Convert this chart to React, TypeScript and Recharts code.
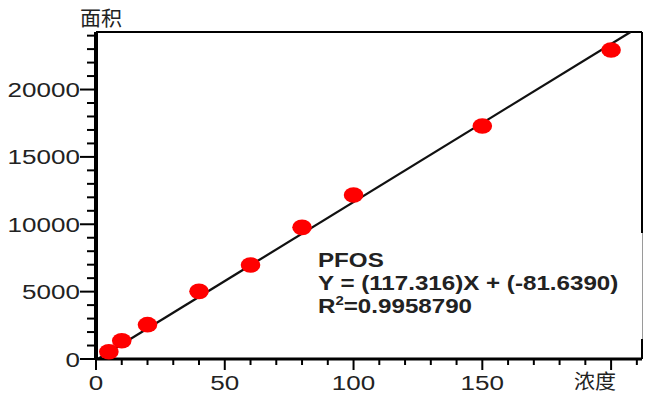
import React from 'react';
import {
  ScatterChart,
  Scatter,
  XAxis,
  YAxis,
  ReferenceLine,
} from 'recharts';

// calibration standards: concentration vs peak area
const CONCENTRATIONS = [5, 10, 20, 40, 60, 80, 100, 150, 200];
const AREAS = [540, 1360, 2550, 5020, 6980, 9770, 12170, 17290, 22930];

// fitted line as printed in the annotation
const SLOPE = 117.316;
const INTERCEPT = -81.639;
const COMPOUND = 'PFOS';
const EQUATION = 'Y = (117.316)X + (-81.6390)';
const R_SQUARED = '0.9958790';

const X_MAX = 212;
const Y_MAX = 24270;

const X_TICKS = [0, 10, 20, 30, 40, 50, 60, 70, 80, 90, 100, 110, 120, 130, 140, 150, 160, 170, 180, 190, 200, 210];
const X_MAJOR = [0, 50, 100, 150, 200];
const X_LABELS = [0, 50, 100, 150];

const Y_TICKS = [
  0, 1000, 2000, 3000, 4000, 5000, 6000, 7000, 8000, 9000, 10000, 11000, 12000,
  13000, 14000, 15000, 16000, 17000, 18000, 19000, 20000, 21000, 22000, 23000, 24000,
];
const Y_LABELS = [0, 5000, 10000, 15000, 20000];

const X_TITLE = '浓度';
const Y_TITLE = '面积';

const points = CONCENTRATIONS.map((c, i) => ({ x: c, y: AREAS[i] }));

// fit line runs from where it crosses zero up to the top of the plot
const fitStart = { x: -INTERCEPT / SLOPE, y: 0 };
const fitEnd = { x: (Y_MAX - INTERCEPT) / SLOPE, y: Y_MAX };

const tickFont = 'Liberation Sans, Arial, sans-serif';

function YTick(props: any) {
  const { x, y, payload } = props;
  const v = payload.value;
  const labeled = Y_LABELS.includes(v);
  return (
    <g>
      <line x1={x - (labeled ? 16 : 9)} x2={x} y1={y} y2={y} stroke="#000" strokeWidth={2} />
      {labeled && (
        <text
          transform={`translate(${x - 16},${y + 7.5}) scale(1.24,1)`}
          textAnchor="end"
          fontFamily={tickFont}
          fontSize={21}
          fill="#222"
        >
          {v}
        </text>
      )}
    </g>
  );
}

function XTick(props: any) {
  const { x, y, payload } = props;
  const v = payload.value;
  const major = X_MAJOR.includes(v);
  return (
    <g>
      <line x1={x} x2={x} y1={y} y2={y + (major ? 11 : 6)} stroke="#000" strokeWidth={2} />
      {X_LABELS.includes(v) && (
        <text
          transform={`translate(${x},${y + 31}) scale(1.24,1)`}
          textAnchor="middle"
          fontFamily={tickFont}
          fontSize={21}
          fill="#222"
        >
          {v}
        </text>
      )}
    </g>
  );
}

const Dot = (p: any) => <ellipse cx={p.cx} cy={p.cy} rx={9.8} ry={7.8} fill="#ff0000" />;

export default function App() {
  return (
    <div style={{ position: 'relative', width: 648, height: 394, background: '#fff' }}>
      <style>{`body { margin: 0; }`}</style>
      <ScatterChart width={648} height={394} margin={{ top: 32, right: 6, left: 0, bottom: 0 }}>
        <XAxis
          type="number"
          dataKey="x"
          domain={[0, X_MAX]}
          ticks={X_TICKS}
          interval={0}
          height={35}
          tickSize={0}
          tickMargin={0}
          tickLine={false}
          tick={<XTick />}
          axisLine={{ stroke: '#000', strokeWidth: 3 }}
        />
        <YAxis
          type="number"
          dataKey="y"
          domain={[0, Y_MAX]}
          ticks={Y_TICKS}
          interval={0}
          width={96}
          tickSize={0}
          tickMargin={0}
          tickLine={false}
          tick={<YTick />}
          axisLine={{ stroke: '#000', strokeWidth: 4 }}
        />
        <ReferenceLine y={Y_MAX} stroke="#000" strokeWidth={2} />
        <ReferenceLine x={X_MAX} stroke="#000" strokeWidth={2} />
        <ReferenceLine segment={[fitStart, fitEnd]} stroke="#111" strokeWidth={2.2} />
        <Scatter data={points} shape={Dot} isAnimationActive={false} />
      </ScatterChart>

      {/* axis titles */}
      <div
        style={{
          position: 'absolute', left: 80, top: 8, fontSize: 20, lineHeight: '20px',
          fontFamily: 'Noto Sans CJK SC, sans-serif', color: '#222',
          transform: 'scale(1.05,1)', transformOrigin: 'left top',
        }}
      >
        {Y_TITLE}
      </div>
      <div
        style={{
          position: 'absolute', left: 574, top: 371, fontSize: 20, lineHeight: '20px',
          fontFamily: 'Noto Sans CJK SC, sans-serif', color: '#222',
          transform: 'scale(1.05,1)', transformOrigin: 'left top',
        }}
      >
        {X_TITLE}
      </div>

      {/* regression annotation */}
      <div
        style={{
          position: 'absolute', left: 310, top: 233, width: 332, height: 106,
          background: '#fff', borderRight: '1px solid #9a9a9a',
        }}
      >
        <div
          style={{
            position: 'absolute', left: 8.4, top: 15.3,
            fontFamily: tickFont, fontWeight: 'bold', fontSize: 21, lineHeight: '23px',
            color: '#222', whiteSpace: 'nowrap',
            transform: 'scale(1.15,1)', transformOrigin: 'left top',
          }}
        >
          <div>{COMPOUND}</div>
          <div>{EQUATION}</div>
          <div>
            R<span style={{ fontSize: 13, position: 'relative', top: -8 }}>2</span>={R_SQUARED}
          </div>
        </div>
      </div>
    </div>
  );
}
